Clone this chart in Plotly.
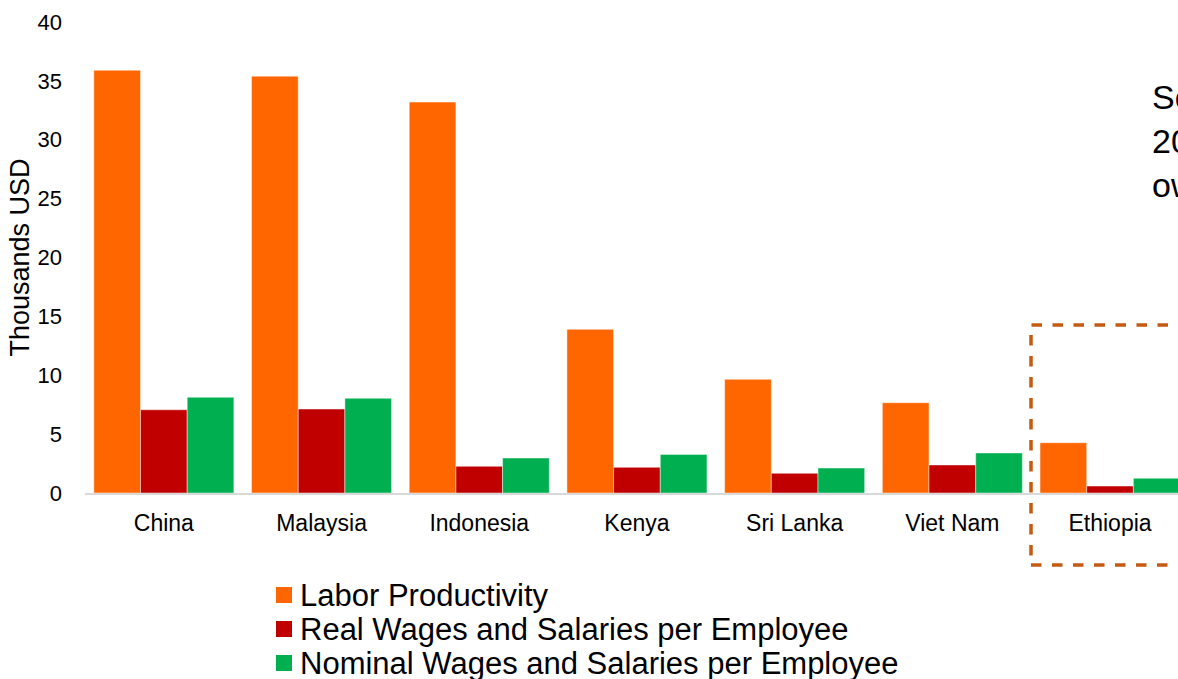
import plotly.graph_objects as go

countries = ["China", "Malaysia", "Indonesia", "Kenya", "Sri Lanka", "Viet Nam", "Ethiopia"]
labor_productivity = [35.9, 35.4, 33.2, 13.9, 9.65, 7.67, 4.27]
real_wages = [7.07, 7.13, 2.27, 2.18, 1.67, 2.38, 0.59]
nominal_wages = [8.13, 8.04, 2.97, 3.28, 2.12, 3.40, 1.25]
y_ticks = [0, 5, 10, 15, 20, 25, 30, 35, 40]
series_names = [
    "Labor Productivity",
    "Real Wages and Salaries per Employee",
    "Nominal Wages and Salaries per Employee",
]
series_colors = ["#FF6600", "#C00000", "#00B050"]

FONT = "Liberation Sans, Arial, sans-serif"
W, H = 1178, 679
ML, MR, MT, MB = 85, 0, 22, 186
PW = W - ML - MR
PH = H - MT - MB

def px_x(p):
    return (p - ML) / PW

def px_y(p):
    return (H - MB - p) / PH

fig = go.Figure()
for name, vals, col in zip(series_names, [labor_productivity, real_wages, nominal_wages], series_colors):
    fig.add_trace(go.Bar(
        x=countries, y=vals, name=name,
        marker=dict(color=col, line=dict(color="rgba(255,255,255,0.45)", width=1)),
    ))

# legend drawn as squares + text, stacked tightly like the original
shapes = []
annotations = []
leg_y = [595, 629, 663]
for name, col, yc in zip(series_names, series_colors, leg_y):
    shapes.append(dict(
        type="rect", xref="paper", yref="paper",
        x0=px_x(276), x1=px_x(292), y0=px_y(yc + 8), y1=px_y(yc - 8),
        fillcolor=col, line=dict(width=0),
    ))
    annotations.append(dict(
        xref="paper", yref="paper", x=px_x(298), y=px_y(yc),
        xanchor="left", yanchor="middle", showarrow=False,
        text=name, font=dict(size=31, family=FONT, color="#000000"),
    ))

shapes.append(dict(
    type="rect", xref="paper", yref="paper",
    x0=px_x(1031), x1=px_x(1200), y0=px_y(565), y1=px_y(325),
    line=dict(color="#C55A11", width=3.5, dash="dash"),
    fillcolor="rgba(0,0,0,0)", layer="above",
))
annotations.append(dict(
    xref="paper", yref="paper", x=px_x(1150), y=px_y(141),
    xanchor="left", yanchor="middle", align="left", showarrow=False,
    text="Se<br>20<br>ow",
    font=dict(size=34, family=FONT, color="#000000"),
))

fig.update_layout(
    width=W, height=H,
    margin=dict(l=ML, r=MR, t=MT, b=MB, autoexpand=False),
    paper_bgcolor="white", plot_bgcolor="white",
    barmode="group", bargap=0.112, bargroupgap=0,
    font=dict(family=FONT, color="#000000"),
    showlegend=False,
    xaxis=dict(
        type="category", range=[-0.5, -0.5 + PW / 157.7],
        showline=True, linecolor="#D9D9D9", linewidth=2,
        showgrid=False, zeroline=False, ticks="",
        tickfont=dict(size=23, family=FONT, color="#000000"),
        ticklabelstandoff=8,
        fixedrange=True,
    ),
    yaxis=dict(
        range=[0, 40], tickvals=y_ticks,
        showline=False, showgrid=False, zeroline=False, ticks="",
        tickfont=dict(size=22, family=FONT, color="#000000"),
        ticklabelstandoff=22,
        title=dict(text="Thousands USD", font=dict(size=27, family=FONT, color="#000000"), standoff=0),
        fixedrange=True,
    ),
    shapes=shapes,
    annotations=annotations,
)

fig.write_html("out.html")
